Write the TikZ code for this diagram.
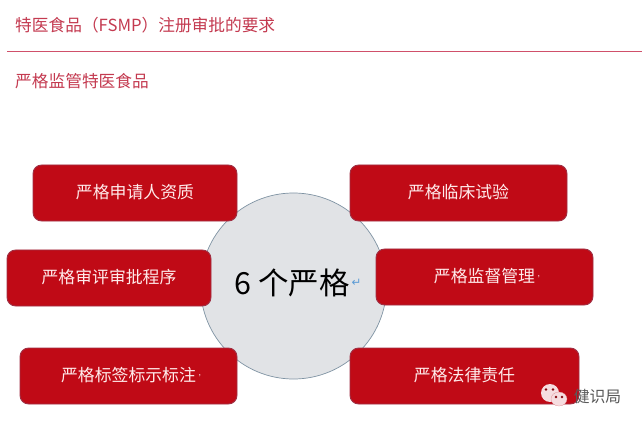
\documentclass[tikz,border=0pt]{standalone}
\usepackage{fontspec}
\usepackage{xcolor}
\setmainfont{Noto Sans CJK SC}
\newfontfamily\symfont{DejaVu Sans}
\usetikzlibrary{positioning,shapes.geometric}
\definecolor{headred}{HTML}{C43A50}
\definecolor{rulered}{HTML}{D0506A}
\definecolor{boxred}{HTML}{C00A16}
\definecolor{boxedge}{HTML}{A03044}
\definecolor{discgray}{HTML}{E1E3E6}
\definecolor{discedge}{HTML}{7F93A3}
\definecolor{iconpink}{HTML}{F6DDE0}
\definecolor{markblue}{HTML}{5B9BD5}
\newcommand{\tailmark}{\rlap{\,\fontsize{7}{8}\selectfont'}}

\begin{document}
\begin{tikzpicture}[
    x=0.03cm, y=-0.03cm,
    head text/.style={anchor=west, inner sep=0pt, text=headred, font=\fontsize{14.25}{16}\selectfont},
    req box/.style={rectangle, draw=boxedge, fill=boxred, line width=0.8pt, rounded corners=2.6mm,
        minimum height=1.68cm, inner sep=0pt, text=white!92!red, font=\fontsize{14.4}{16}\selectfont},
    hub disc/.style={circle, draw=discedge, fill=discgray, line width=0.6pt, minimum size=5.58cm, inner sep=0pt},
    icon blob/.style={ellipse, fill=iconpink, inner sep=0pt}
]
    \useasboundingbox (0,0) rectangle (642,425);
    \fill[white] (0,0) rectangle (642,425);

    \node[head text] (title) at (15,25) {特医食品（FSMP）注册审批的要求};
    \coordinate (rule-l) at (7,51.5);
    \coordinate (rule-r) at (642,51.5);
    \draw[rulered, line width=1.1pt] (rule-l) -- (rule-r);
    \node[head text] (subtitle) at (15,81) {严格监管特医食品};

    \node[hub disc] (hub) at (293.5,286) {};
    \node[inner sep=0pt, font=\fontsize{26}{30}\selectfont] (hub-text) at (292,283) {6 个严格};
    \node[inner sep=0pt, right=0.5mm of hub-text, text=markblue, font=\symfont\fontsize{10}{12}\selectfont] (hub-mark) {↵};

    \foreach \name/\cx/\cy/\w/\lab in {
        a/135/193/204/严格申请人资质,
        b/109/278/204/严格审评审批程序,
        c/128.5/376/217/严格标签标示标注\tailmark,
        d/458.5/193/217/严格临床试验,
        e/484.5/277/217/严格监督管理\tailmark,
        f/464.5/376/229/严格法律责任}
      \node[req box, minimum width=\w*0.03cm] (box-\name) at (\cx,\cy) {\raisebox{0.07cm}{\lab}};

    % watermark
    \node[icon blob, minimum width=0.54cm, minimum height=0.54cm] (icon-a) at (550,393) {};
    \node[icon blob, draw=boxred!50!white, line width=0.2pt, minimum width=0.48cm, minimum height=0.42cm] (icon-b) at (559,399) {};
    \foreach \ex/\ey in {546/389.5,553/389.5,556/397,562/397}
      \fill[boxred!70!black] (\ex,\ey) circle (0.04cm);
    \node[inner sep=0pt, text=black!65, font=\fontsize{13.5}{16}\selectfont] (mark) at (597.5,396) {健识局};
\end{tikzpicture}
\end{document}
